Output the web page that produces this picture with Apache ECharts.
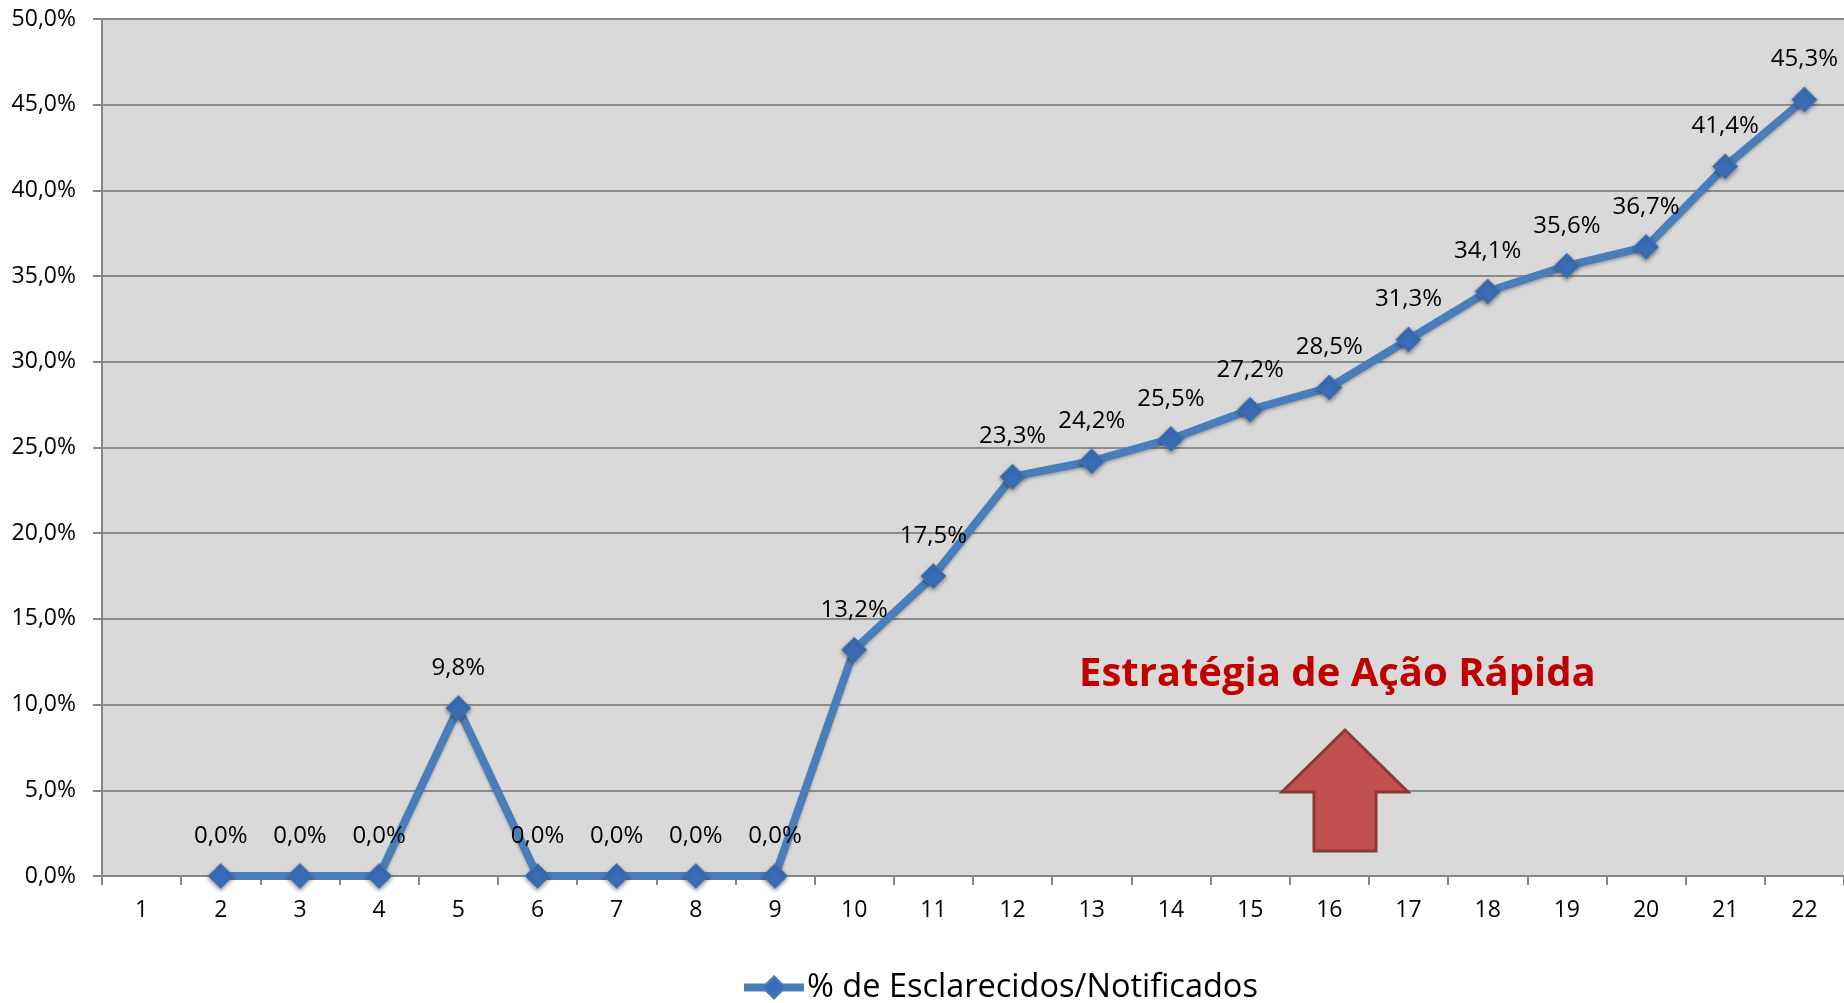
<!DOCTYPE html>
<html>
<head>
<meta charset="utf-8">
<script src="https://cdn.jsdelivr.net/npm/echarts@6/dist/echarts.min.js"></script>
<style>
html,body{margin:0;padding:0;background:#fff;}
#main{width:1844px;height:1003px;}
</style>
</head>
<body>
<div id="main"></div>
<script>
const categories = ['1','2','3','4','5','6','7','8','9','10','11','12','13','14','15','16','17','18','19','20','21','22'];
const values = [null, 0.0, 0.0, 0.0, 9.8, 0.0, 0.0, 0.0, 0.0, 13.2, 17.5, 23.3, 24.2, 25.5, 27.2, 28.5, 31.3, 34.1, 35.6, 36.7, 41.4, 45.3];
const seriesName = '% de Esclarecidos/Notificados';
const annotationText = 'Estratégia de Ação Rápida';

const FONT = '"Open Sans", "Noto Sans", sans-serif';
const fmt = v => Number(v).toFixed(1).replace('.', ',') + '%';

const chart = echarts.init(document.getElementById('main'));
chart.setOption({
  animation: false,
  backgroundColor: '#ffffff',
  grid: {
    left: 102, right: 0, top: 19, bottom: 127,
    show: true, backgroundColor: '#D9D9D9', borderWidth: 0
  },
  legend: {
    data: [seriesName],
    top: 971,
    left: 740,
    padding: 0,
    itemWidth: 60,
    itemHeight: 28,
    itemGap: 4,
    lineStyle: { width: 8 },
    textStyle: { fontFamily: FONT, fontSize: 32.5, color: '#000', padding: [0, 0, 0, -2] }
  },
  xAxis: {
    type: 'category',
    data: categories,
    boundaryGap: true,
    axisLine: { show: true, lineStyle: { color: '#868686', width: 2 } },
    axisTick: { show: true, length: 9, lineStyle: { color: '#868686', width: 2 } },
    axisLabel: { fontFamily: FONT, fontSize: 23, color: '#000', margin: 23 },
    splitLine: { show: false }
  },
  yAxis: {
    type: 'value',
    min: 0, max: 50, interval: 5,
    axisLine: { show: true, lineStyle: { color: '#868686', width: 2 } },
    axisTick: { show: true, length: 9, lineStyle: { color: '#868686', width: 2 } },
    axisLabel: { fontFamily: FONT, fontSize: 23, color: '#000', margin: 26, formatter: fmt },
    splitLine: { show: true, lineStyle: { color: '#8C8C8C', width: 2 } }
  },
  series: [{
    name: seriesName,
    type: 'line',
    data: values,
    connectNulls: false,
    symbol: 'diamond',
    symbolSize: 25,
    lineStyle: { color: '#4A7EBB', width: 8, shadowBlur: 3, shadowColor: 'rgba(0,0,0,0.25)', shadowOffsetY: 2 },
    itemStyle: { color: '#3A6DB5', borderColor: '#4A7EBB', borderWidth: 1, shadowBlur: 4, shadowColor: 'rgba(0,0,0,0.4)', shadowOffsetY: 2 },
    label: {
      show: true, position: 'top', distance: 15,
      fontFamily: FONT, fontSize: 24, color: '#000',
      formatter: p => p.value == null ? '' : fmt(p.value)
    },
    z: 3
  }],
  graphic: [
    {
      type: 'text',
      left: 1079, top: 655,
      style: { text: annotationText, fontFamily: FONT, fontWeight: 'bold', fontSize: 40, fill: '#C00000' },
      z: 10
    },
    {
      type: 'polygon',
      shape: { points: [[1345,730],[1408,792],[1376,792],[1376,851],[1314,851],[1314,792],[1282,792]] },
      style: { fill: '#C0504D', stroke: '#8C3836', lineWidth: 3 },
      z: 10
    }
  ]
});
</script>
</body>
</html>
